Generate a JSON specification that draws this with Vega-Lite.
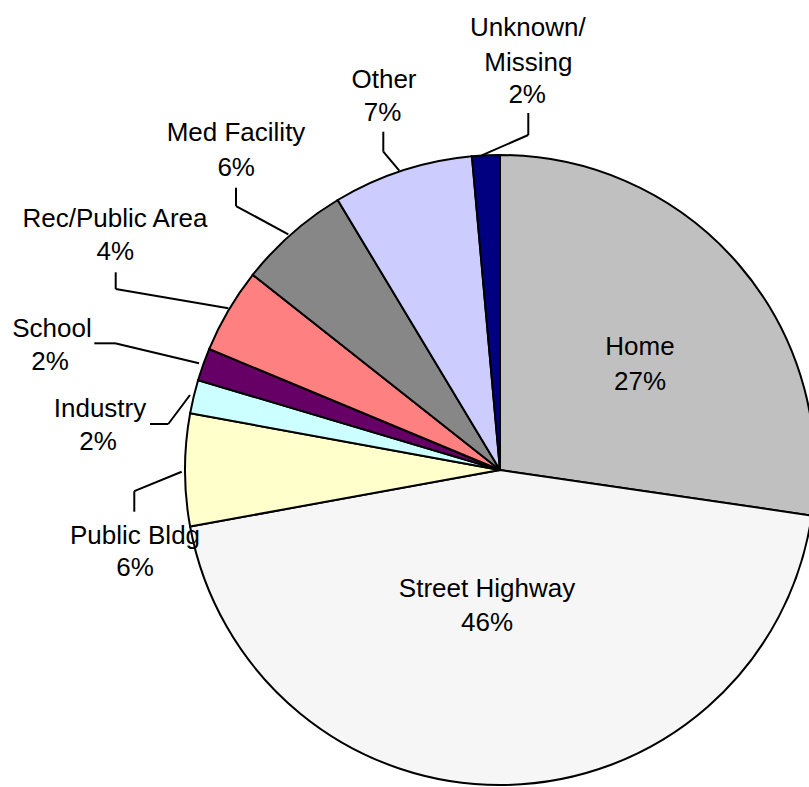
{
  "$schema": "https://vega.github.io/schema/vega-lite/v6.json",
  "width": 1000,
  "height": 940,
  "padding": 0,
  "autosize": {"type": "none"},
  "background": "white",
  "config": {"view": {"stroke": null}},
  "datasets": {
    "slices": [
      {"idx": 1, "cat": "Home", "value": 27.3},
      {"idx": 2, "cat": "Street Highway", "value": 44.8},
      {"idx": 3, "cat": "Public Bldg", "value": 5.75},
      {"idx": 4, "cat": "Industry", "value": 1.72},
      {"idx": 5, "cat": "School", "value": 1.67},
      {"idx": 6, "cat": "Rec/Public Area", "value": 4.36},
      {"idx": 7, "cat": "Med Facility", "value": 5.75},
      {"idx": 8, "cat": "Other", "value": 7.19},
      {"idx": 9, "cat": "Unknown/Missing", "value": 1.42}
    ],
    "labels": [
      {"t": "Home", "lx": 44.44, "ly": 39.05},
      {"t": "27%", "lx": 44.44, "ly": 27.94},
      {"t": "Street Highway", "lx": -4.13, "ly": -37.78},
      {"t": "46%", "lx": -4.13, "ly": -48.57},
      {"t": "Public Bldg", "lx": -115.87, "ly": -20.95},
      {"t": "6%", "lx": -115.87, "ly": -31.11},
      {"t": "Industry", "lx": -126.98, "ly": 19.37},
      {"t": "2%", "lx": -127.6, "ly": 8.89},
      {"t": "School", "lx": -142.22, "ly": 44.76},
      {"t": "2%", "lx": -142.86, "ly": 34.29},
      {"t": "Rec/Public Area", "lx": -122.22, "ly": 79.68},
      {"t": "4%", "lx": -122.13, "ly": 69.21},
      {"t": "Med Facility", "lx": -83.81, "ly": 106.98},
      {"t": "6%", "lx": -83.75, "ly": 95.87},
      {"t": "Other", "lx": -36.83, "ly": 123.81},
      {"t": "7%", "lx": -37.3, "ly": 113.33},
      {"t": "Unknown/", "lx": 8.83, "ly": 140.32},
      {"t": "Missing", "lx": 9.0, "ly": 129.21},
      {"t": "2%", "lx": 8.63, "ly": 119.05}
    ],
    "leaders": [
      {"a": 8.98, "b": 113.33, "c": 8.98, "d": 106.35},
      {"a": 8.98, "b": 106.35, "c": -5.81, "d": 99.9},
      {"a": -37.05, "b": 107.4, "c": -37.05, "d": 101.05},
      {"a": -37.05, "b": 101.05, "c": -31.97, "d": 95.02},
      {"a": -83.81, "b": 89.62, "c": -83.81, "d": 83.81},
      {"a": -83.81, "b": 83.81, "c": -67.21, "d": 74.83},
      {"a": -122.0, "b": 62.76, "c": -122.0, "d": 57.46},
      {"a": -122.0, "b": 57.46, "c": -86.25, "d": 51.33},
      {"a": -128.79, "b": 40.22, "c": -122.22, "d": 40.22},
      {"a": -122.22, "b": 40.22, "c": -95.56, "d": 33.87},
      {"a": -111.11, "b": 14.6, "c": -105.3, "d": 14.6},
      {"a": -105.3, "b": 14.6, "c": -98.41, "d": 23.81},
      {"a": -116.1, "b": -13.24, "c": -116.1, "d": -6.73},
      {"a": -116.1, "b": -6.73, "c": -101.05, "d": -0.54}
    ]
  },
  "layer": [
    {
      "data": {"name": "slices"},
      "mark": {"type": "arc", "radius": 315, "stroke": "black", "strokeWidth": 2},
      "encoding": {
        "theta": {"field": "value", "type": "quantitative", "stack": true},
        "order": {"field": "idx", "type": "quantitative"},
        "color": {
          "field": "cat",
          "type": "nominal",
          "legend": null,
          "scale": {
            "domain": ["Home", "Street Highway", "Public Bldg", "Industry", "School", "Rec/Public Area", "Med Facility", "Other", "Unknown/Missing"],
            "range": ["#C0C0C0", "#F6F6F6", "#FFFFCC", "#CCFFFF", "#660066", "#FF8080", "#878787", "#CCCCFF", "#000080"]
          }
        }
      }
    },
    {
      "data": {"name": "leaders"},
      "mark": {"type": "rule", "color": "black", "strokeWidth": 2},
      "encoding": {
        "x": {"field": "a", "type": "quantitative", "scale": {"domain": [-158.73, 158.73]}, "axis": null},
        "y": {"field": "b", "type": "quantitative", "scale": {"domain": [-149.21, 149.21]}, "axis": null},
        "x2": {"field": "c"},
        "y2": {"field": "d"}
      }
    },
    {
      "data": {"name": "labels"},
      "mark": {"type": "text", "font": "Liberation Sans", "fontSize": 26, "color": "black", "align": "center", "baseline": "middle"},
      "encoding": {
        "x": {"field": "lx", "type": "quantitative", "scale": {"domain": [-158.73, 158.73]}, "axis": null},
        "y": {"field": "ly", "type": "quantitative", "scale": {"domain": [-149.21, 149.21]}, "axis": null},
        "text": {"field": "t", "type": "nominal"}
      }
    }
  ]
}
